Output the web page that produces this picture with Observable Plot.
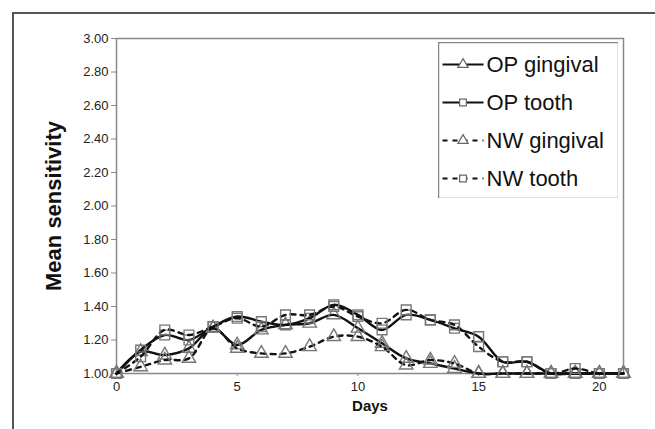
<!DOCTYPE html>
<html>
<head>
<meta charset="utf-8">
<script src="https://cdn.jsdelivr.net/npm/d3@7"></script>
<script src="https://cdn.jsdelivr.net/npm/@observablehq/plot@0.6"></script>
<style>
  body { margin: 0; background: #fff; }
  #chart { position: relative; width: 655px; height: 429px; overflow: hidden;
           font-family: "Liberation Sans", Arial, sans-serif; }
  #frame { position: absolute; left: 12px; top: 12px; width: 700px; height: 500px;
           border-left: 2px solid #555; border-top: 2px solid #555; }
  #main { position: absolute; left: 0; top: 0; }
  #legend { position: absolute; left: 438px; top: 42px; }
</style>
</head>
<body>
<div id="chart"><div id="frame"></div><div id="main"></div><div id="legend"></div></div>
<script>
// Days of follow-up
const days = [0, 1, 2, 3, 4, 5, 6, 7, 8, 9, 10, 11, 12, 13, 14, 15, 16, 17, 18, 19, 20, 21];

// Mean sensitivity per day for each group / site
const opGingival = [1.00, 1.13, 1.11, 1.15, 1.27, 1.17, 1.26, 1.29, 1.30, 1.35, 1.27, 1.18, 1.09, 1.06, 1.03, 1.00, 1.00, 1.00, 1.00, 1.00, 1.00, 1.00];
const opTooth    = [1.00, 1.14, 1.23, 1.20, 1.28, 1.34, 1.31, 1.29, 1.33, 1.41, 1.35, 1.26, 1.35, 1.32, 1.27, 1.22, 1.07, 1.07, 1.00, 1.00, 1.00, 1.00];
const nwGingival = [1.00, 1.04, 1.08, 1.09, 1.27, 1.15, 1.12, 1.12, 1.16, 1.22, 1.22, 1.16, 1.05, 1.08, 1.06, 1.00, 1.00, 1.00, 1.00, 1.00, 1.00, 1.00];
const nwTooth    = [1.00, 1.10, 1.26, 1.23, 1.28, 1.33, 1.28, 1.35, 1.35, 1.40, 1.34, 1.30, 1.38, 1.32, 1.29, 1.16, 1.07, 1.07, 1.00, 1.03, 1.00, 1.00];

const seriesNames = ["OP gingival", "OP tooth", "NW gingival", "NW tooth"];
const seriesValues = [opGingival, opTooth, nwGingival, nwTooth];

const yTicks = [1.00, 1.20, 1.40, 1.60, 1.80, 2.00, 2.20, 2.40, 2.60, 2.80, 3.00];
const xTicks = [0, 5, 10, 15, 20];

// Drawing style of each series
const styles = {
  "OP gingival": {symbol: "triangle", r: 5, dash: null},
  "OP tooth":    {symbol: "square",   r: 5.5, dash: null},
  "NW gingival": {symbol: "triangle", r: 5, dash: "5,5"},
  "NW tooth":    {symbol: "square",   r: 5.5, dash: "5,5"}
};

const rows = seriesNames.map((name, k) =>
  days.map((d, i) => ({day: d, value: seriesValues[k][i], series: name})));

const seriesMarks = rows.flatMap((data, k) => {
  const st = styles[seriesNames[k]];
  return [
    Plot.line(data, {x: "day", y: "value", curve: "catmull-rom", stroke: "#111",
      strokeWidth: 2.4, strokeDasharray: st.dash}),
    Plot.dot(data, {x: "day", y: "value", symbol: () => st.symbol, r: st.r,
      stroke: "#777", strokeWidth: 1.4, fill: "none"})
  ];
});

const chart = Plot.plot({
  width: 655, height: 429,
  marginLeft: 116, marginRight: 32, marginTop: 38, marginBottom: 56,
  style: {fontFamily: "Liberation Sans, Arial, sans-serif", fontSize: "13px", background: "transparent"},
  x: {domain: [0, 21]},
  y: {domain: [1, 3]},
  marks: [
    Plot.frame({stroke: "#888", strokeWidth: 1.5}),
    Plot.axisY({ticks: yTicks, tickFormat: d3.format(".2f"), tickSize: 5, tickPadding: 3,
      fontSize: 13, stroke: "#888", color: "#222", label: null}),
    Plot.axisX({ticks: xTicks, tickFormat: d3.format("d"), tickSize: 3, tickPadding: 5,
      fontSize: 13, stroke: "#888", color: "#222", label: null}),
    Plot.text(["Days"], {frameAnchor: "bottom", dy: 37, fontSize: 15, fontWeight: "bold", fill: "#111"}),
    Plot.text(["Mean sensitivity"], {frameAnchor: "left", textAnchor: "middle", dx: -63, rotate: -90,
      fontSize: 22, fontWeight: "bold", fill: "#111"}),
    ...seriesMarks
  ]
});
document.getElementById("main").appendChild(chart);

// Legend: a small plot with one row per series
const legendRows = seriesNames.map(name => ({series: name, ...styles[name]}));
const legend = Plot.plot({
  width: 180, height: 156,
  margin: 0,
  style: {fontFamily: "Liberation Sans, Arial, sans-serif", background: "#fff"},
  x: {domain: [0, 1], range: [4, 45], axis: null},
  y: {domain: seriesNames, range: [21, 136], padding: 0, axis: null, type: "point"},
  marks: [
    Plot.frame({stroke: "#888", strokeWidth: 1.5}),
    ...legendRows.map(r => Plot.link([r], {x1: () => 0, x2: () => 1, y1: "series", y2: "series",
      stroke: "#111", strokeWidth: 2.2, strokeDasharray: r.dash})),
    Plot.dot(legendRows, {x: () => 0.5, y: "series", symbol: "symbol", r: 3.8,
      stroke: "#666", strokeWidth: 1.2, fill: "#fff"}),
    Plot.text(legendRows, {x: () => 1, y: "series", text: "series", textAnchor: "start", dx: 3,
      fontSize: 22, fill: "#111"})
  ]
});
document.getElementById("legend").appendChild(legend);
</script>
</body>
</html>
